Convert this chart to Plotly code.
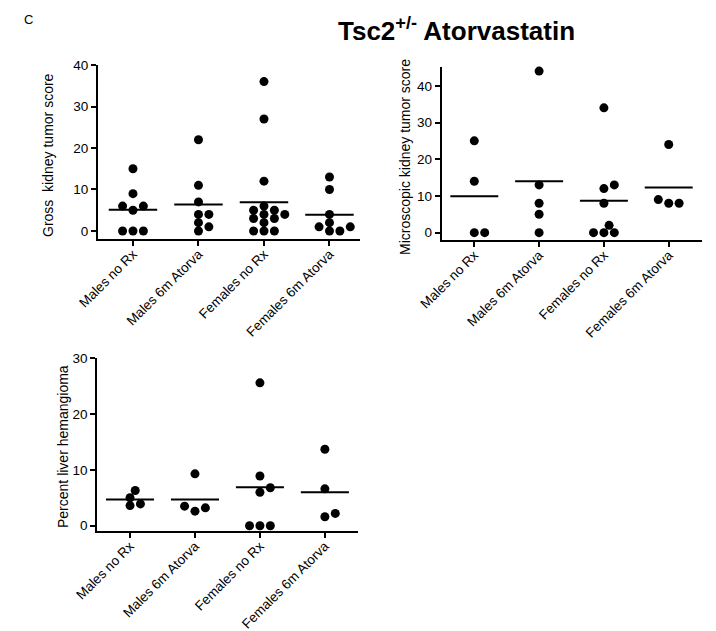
import plotly.graph_objects as go

# The page body has an 8px default margin; the figure is sized to fill the rest of the window.
PAGE_W, PAGE_H, BODY = 716, 631, 8
W, H = PAGE_W - BODY, PAGE_H - BODY

categories = ["Males no Rx", "Males 6m Atorva", "Females no Rx", "Females 6m Atorva"]

# Panel 1: Gross kidney tumor score
gross_males_norx = [15, 9, 6, 6, 5, 0, 0, 0]
gross_males_atorva = [22, 11, 7, 4, 4, 2, 1, 0]
gross_females_norx = [36, 27, 12, 6, 5, 5, 4, 4, 3, 3, 2, 0, 0, 0]
gross_females_atorva = [13, 10, 4, 2, 1, 1, 0, 0]
gross_means = [5.1, 6.4, 6.9, 3.9]

# Panel 2: Microscopic kidney tumor score
micro_males_norx = [25, 14, 0, 0]
micro_males_atorva = [44, 13, 8, 5, 0]
micro_females_norx = [34, 13, 12, 8, 2, 0, 0, 0]
micro_females_atorva = [24, 9, 8, 8]
micro_means = [9.9, 14.0, 8.7, 12.3]

# Panel 3: Percent liver hemangioma
liver_males_norx = [6.3, 5.0, 3.9, 3.6]
liver_males_atorva = [9.3, 3.5, 3.2, 2.6]
liver_females_norx = [25.6, 8.9, 6.8, 6.0, 0, 0, 0]
liver_females_atorva = [13.7, 6.6, 2.2, 1.6]
liver_means = [4.7, 4.7, 6.9, 6.0]

FONT = "Arial, Liberation Sans, sans-serif"


def px(x):
    return (x - BODY) / W


def py(y):
    return 1 - (y - BODY) / H


panels = [
    dict(groups=[gross_males_norx, gross_males_atorva, gross_females_norx, gross_females_atorva],
         means=gross_means, title="Gross\u00a0 kidney tumor score",
         xpx=(98, 360), ypx=(65, 239), xr=(-0.534, 3.466), yr=(-1.93, 40),
         ticks=[0, 10, 20, 30, 40], title_pos=(48, 155)),
    dict(groups=[micro_males_norx, micro_males_atorva, micro_females_norx, micro_females_atorva],
         means=micro_means, title="Microscopic kidney tumor score",
         xpx=(441.7, 701.7), ypx=(66.7, 240), xr=(-0.503, 3.509), yr=(-2.0, 45.2),
         ticks=[0, 10, 20, 30, 40], title_pos=(405, 157)),
    dict(groups=[liver_males_norx, liver_males_atorva, liver_females_norx, liver_females_atorva],
         means=liver_means, title="Percent liver hemangioma",
         xpx=(97.3, 358), ypx=(358.3, 531), xr=(-0.504, 3.51), yr=(-0.95, 30),
         ticks=[0, 10, 20, 30], title_pos=(63, 447)),
]


def swarm(values, ppx, ppy, step=5.2, thr=7.5):
    order = sorted(range(len(values)), key=lambda i: values[i])
    placed = []
    offs = [0.0] * len(values)
    cands = [0] + [s * j for j in range(1, 20) for s in (1, -1)]
    for i in order:
        y = values[i] * ppy
        x = 0.0
        for c in cands:
            x = c * step
            if all((x - a) ** 2 + (y - b) ** 2 >= thr ** 2 - 1e-9 for a, b in placed):
                break
        placed.append((x, y))
        offs[i] = x / ppx
    return offs


fig = go.Figure()
layout = dict(width=W, height=H, margin=dict(l=0, r=0, t=0, b=0, pad=0, autoexpand=False),
              paper_bgcolor="white", plot_bgcolor="white", showlegend=False,
              font=dict(family=FONT, size=13, color="black"))
annotations = []

for p_i, p in enumerate(panels):
    sfx = "" if p_i == 0 else str(p_i + 1)
    xa, ya = "x" + sfx, "y" + sfx
    x0, x1 = p["xpx"]
    yt, yb = p["ypx"]
    ppx = (x1 - x0) / (p["xr"][1] - p["xr"][0])
    ppy = (yb - yt) / (p["yr"][1] - p["yr"][0])
    xs, ys = [], []
    for gi, vals in enumerate(p["groups"]):
        offs = swarm(vals, ppx, ppy)
        xs += [gi + o for o in offs]
        ys += list(vals)
    fig.add_trace(go.Scatter(x=xs, y=ys, mode="markers", xaxis=xa, yaxis=ya,
                             marker=dict(size=9, color="black", line=dict(width=0)),
                             hoverinfo="skip", cliponaxis=False))
    mx, my = [], []
    for gi, m in enumerate(p["means"]):
        mx += [gi - 0.37, gi + 0.37, None]
        my += [m, m, None]
    fig.add_trace(go.Scatter(x=mx, y=my, mode="lines", xaxis=xa, yaxis=ya,
                             line=dict(color="black", width=2), hoverinfo="skip"))
    layout["xaxis" + sfx] = dict(
        domain=[px(x0), px(x1)], range=list(p["xr"]), anchor=ya, automargin=False,
        tickmode="array", tickvals=[0, 1, 2, 3], ticktext=categories, tickangle=-45,
        ticklabelstandoff=-5,
        showline=True, linecolor="black", linewidth=2, ticks="outside", ticklen=5,
        tickwidth=1.5, tickcolor="black", showgrid=False, zeroline=False,
        tickfont=dict(family=FONT, size=13.5, color="black"), fixedrange=True)
    layout["yaxis" + sfx] = dict(
        domain=[py(yb), py(yt)], range=list(p["yr"]), anchor=xa, automargin=False,
        tickmode="array", tickvals=p["ticks"],
        showline=True, linecolor="black", linewidth=2, ticks="outside", ticklen=5,
        tickwidth=1.5, tickcolor="black", showgrid=False, zeroline=False,
        tickfont=dict(family=FONT, size=13.5, color="black"), fixedrange=True)
    tx, ty = p["title_pos"]
    annotations.append(dict(text=p["title"], x=px(tx), y=py(ty), xref="paper", yref="paper",
                            textangle=-90, showarrow=False, xanchor="center", yanchor="middle",
                            font=dict(family=FONT, size=14, color="black")))

annotations.append(dict(text="C", x=px(22), y=py(20), xref="paper", yref="paper",
                        showarrow=False, xanchor="left", yanchor="middle",
                        font=dict(family=FONT, size=13, color="black")))
annotations.append(dict(text="<b>Tsc2<sup>+/-</sup> Atorvastatin</b>", x=px(336), y=py(30),
                        xref="paper", yref="paper", showarrow=False, xanchor="left",
                        yanchor="middle", font=dict(family=FONT, size=26, color="black")))
layout["annotations"] = annotations
fig.update_layout(**layout)
fig.write_html("out.html")
